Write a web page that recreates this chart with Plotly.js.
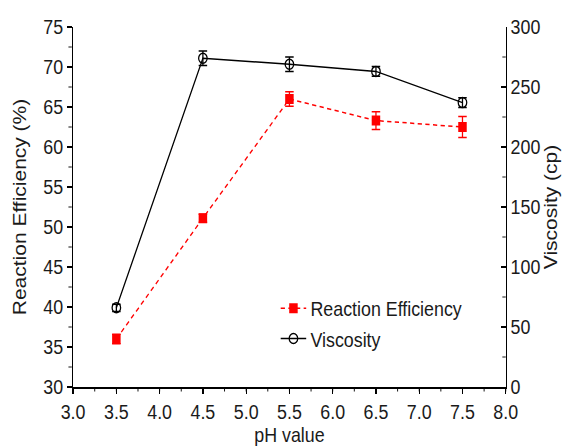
<!DOCTYPE html>
<html>
<head>
<meta charset="utf-8">
<script src="https://cdn.plot.ly/plotly-3.0.1.min.js"></script>
<style>
html,body{margin:0;padding:0;background:#fff;overflow:hidden;}
#wrap{width:566px;height:446px;overflow:hidden;}
#chart{width:666px;height:446px;transform:scaleX(0.85);transform-origin:0 0;}
</style>
</head>
<body>
<div id="wrap"><div id="chart"></div></div>
<script>
const phValues = [3.5, 4.5, 5.5, 6.5, 7.5];
const efficiency = [36.0, 51.1, 66.0, 63.3, 62.5];
const efficiencyErr = [0.6, 0.5, 0.9, 1.1, 1.3];
const viscosity = [66, 274, 269, 263, 237];
const viscosityErr = [3, 6, 6, 4, 4];
const xTickVals = [3.0, 3.5, 4.0, 4.5, 5.0, 5.5, 6.0, 6.5, 7.0, 7.5, 8.0];
const xTickText = ['3.0','3.5','4.0','4.5','5.0','5.5','6.0','6.5','7.0','7.5','8.0'];

const FONT = '"Liberation Sans", Arial, sans-serif';
const TXT = '#1a1a1a';

const traces = [
  {
    x: phValues, y: efficiency, name: 'Reaction Efficiency', type: 'scatter', mode: 'lines+markers',
    line: {color: '#ff0000', width: 1.5, dash: '5px,4px'},
    marker: {symbol: 'square', size: 10, color: '#ff0000'},
    error_y: {type: 'data', array: efficiencyErr, visible: true, color: '#ff0000', thickness: 1.5, width: 5},
    yaxis: 'y'
  },
  {
    x: phValues, y: viscosity, name: 'Viscosity', type: 'scatter', mode: 'lines+markers',
    line: {color: '#000000', width: 1.5},
    marker: {symbol: 'circle-open', size: 10, color: '#000000', line: {width: 1.5, color: '#000'}},
    error_y: {type: 'data', array: viscosityErr, visible: true, color: '#000000', thickness: 1.5, width: 5},
    yaxis: 'y2'
  }
];

const layout = {
  width: 666, height: 446,
  margin: {l: 86, r: 71, t: 27, b: 59},
  paper_bgcolor: '#fff', plot_bgcolor: '#fff',
  font: {family: FONT, size: 21, color: TXT},
  showlegend: true,
  legend: {x: 0.47, y: 0.275, xanchor: 'left', yanchor: 'top', bgcolor: 'rgba(0,0,0,0)',
           font: {family: FONT, size: 21, color: TXT}, tracegroupgap: 0, itemwidth: 30},
  xaxis: {
    range: [3.0, 8.0], tickmode: 'array', tickvals: xTickVals, ticktext: xTickText,
    ticks: 'outside', ticklen: 5, tickwidth: 1.5, tickcolor: '#000',
    showline: true, linecolor: '#000', linewidth: 1.5, showgrid: false, zeroline: false,
    minor: {dtick: 0.25, ticks: 'outside', ticklen: 3, tickwidth: 1, tickcolor: '#000'},
    title: {text: 'pH value', font: {family: FONT, size: 21, color: TXT}, standoff: 6},
    tickfont: {family: FONT, size: 21, color: TXT}
  },
  xaxis2: {
    range: [3.0, 8.0], overlaying: 'x', side: 'top', tickmode: 'array', tickvals: xTickVals,
    showticklabels: false, ticks: 'inside', ticklen: 5, tickwidth: 1.5, tickcolor: '#000',
    showline: true, linecolor: '#000', linewidth: 1.5, showgrid: false, zeroline: false,
    minor: {dtick: 0.25, ticks: 'inside', ticklen: 3, tickwidth: 1, tickcolor: '#000'}
  },
  yaxis: {
    range: [30, 75], dtick: 5, tick0: 30,
    ticks: 'outside', ticklen: 6, tickwidth: 1.5, tickcolor: '#000',
    showline: true, linecolor: '#000', linewidth: 1.5, showgrid: false, zeroline: false,
    minor: {dtick: 2.5, ticks: 'outside', ticklen: 4, tickwidth: 1, tickcolor: '#000'},
    title: {text: 'Reaction Efficiency (%)', font: {family: FONT, size: 21, color: TXT}, standoff: 14},
    tickfont: {family: FONT, size: 21, color: TXT}
  },
  yaxis2: {
    range: [0, 300], dtick: 50, tick0: 0, overlaying: 'y', side: 'right',
    ticks: 'inside', ticklen: 6, tickwidth: 1.5, tickcolor: '#000',
    showline: true, linecolor: '#000', linewidth: 1.5, showgrid: false, zeroline: false,
    minor: {dtick: 25, ticks: 'inside', ticklen: 4, tickwidth: 1, tickcolor: '#000'},
    title: {text: 'Viscosity (cp)', font: {family: FONT, size: 21, color: TXT}, standoff: 6},
    tickfont: {family: FONT, size: 21, color: TXT}
  }
};

Plotly.newPlot('chart', traces, layout, {displayModeBar: false, staticPlot: true});
</script>
</body>
</html>
